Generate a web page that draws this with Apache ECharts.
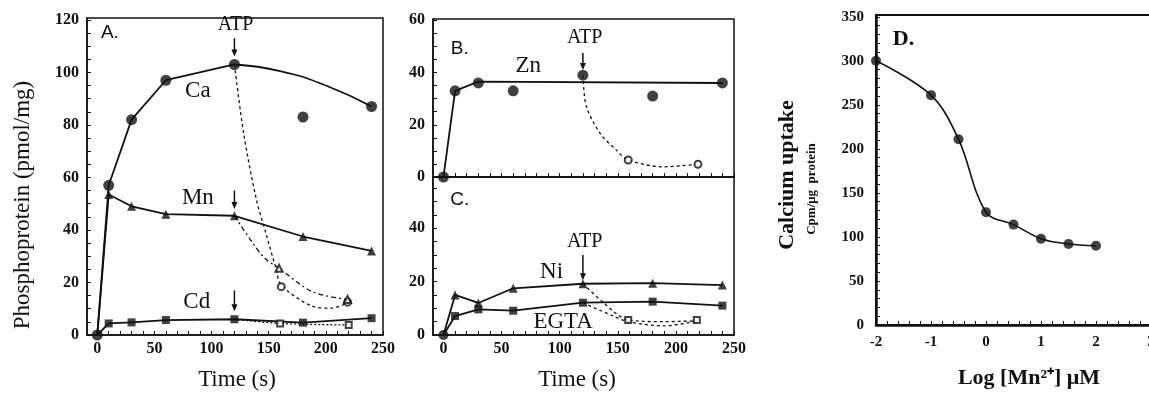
<!DOCTYPE html>
<html>
<head>
<meta charset="utf-8">
<script src="https://cdn.jsdelivr.net/npm/echarts@6/dist/echarts.min.js"></script>
<style>
html, body { margin: 0; padding: 0; background: #fff; }
#main { width: 1149px; height: 402px; }
</style>
</head>
<body>
<div id="main"></div>
<script>
// A. phosphoprotein vs time, Ca / Mn / Cd
var tA = [0, 10, 30, 60, 120, 180, 240];
var caA = [0, 57, 82, 97, 103, 83, 87];
var mnA = [0, 53.5, 49, 46, 45.4, 37.5, 32];
var cdA = [0, 4.4, 4.8, 5.7, 6, 4.7, 6.4];
// fitted Ca arc after the peak
var caArcT = [120, 160, 200, 240];
var caArcV = [103, 100.5, 95, 87];
// after ATP addition (open symbols)
var caAtpT = [120, 128, 139, 148, 156, 161, 188, 205, 218];
var caAtpV = [103, 77, 52, 38, 26, 19, 11, 10.2, 12];
var mnAtpT = [120, 136, 147, 159, 188, 219];
var mnAtpV = [45.4, 35, 29, 25.4, 16.5, 13.5];
var cdAtpT = [120, 160, 220];
var cdAtpV = [6, 4.4, 3.8];
var caOpenT = [161, 219];
var caOpenV = [18.4, 12.5];
var mnOpenT = [159, 219];
var mnOpenV = [25.4, 13.5];

// B. Zn
var tB = [0, 10, 30, 60, 120, 180, 240];
var znB = [0, 33, 36, 33, 39, 31, 36];
var znFitT = [0, 10, 30, 240];
var znFitV = [0, 33, 36.5, 36];
var znAtpT = [120, 123, 135, 149, 159, 189, 219];
var znAtpV = [39, 27, 16.6, 10.2, 6.5, 3.9, 4.9];
var znOpenT = [159, 219];
var znOpenV = [6.5, 4.9];

// C. Ni / EGTA
var niC = [0, 15, 12, 17.5, 19.2, 19.4, 18.7];
var egC = [0, 7.1, 9.6, 9.1, 12.1, 12.5, 11];
var niAtpT = [120, 138, 159, 190, 218];
var niAtpV = [19.2, 12, 5.6, 5, 5.3];
var egAtpT = [120, 144, 159, 190, 218];
var egAtpV = [12.1, 7.5, 5, 3.4, 5.3];
var cOpenT = [159, 218];
var cOpenV = [5.6, 5.6];

// D. calcium uptake vs log [Mn]
var dX = [-2, -1, -0.5, 0, 0.5, 1, 1.5, 2];
var dV = [300, 261, 211, 128, 114, 98, 92, 90];

// tick labels
var timeTicks = [0, 50, 100, 150, 200, 250];
var aTicks = [0, 20, 40, 60, 80, 100, 120];
var bTicks = [0, 20, 40, 60];
var cTicks = [0, 20, 40];
var dYTicks = [0, 50, 100, 150, 200, 250, 300, 350];
var dXTicks = [-2, -1, 0, 1, 2, 3];

var SERIF = '"Liberation Serif", "Times New Roman", serif';
var SANS = '"Liberation Sans", Arial, sans-serif';
var INK = '#111';

var chart = echarts.init(document.getElementById('main'));

function pts(xs, ys) {
	var r = [];
	for (var i = 0; i < xs.length; i++) r.push([xs[i], ys[i]]);
	return r;
}
function steps(a, b, s) {
	var r = [];
	for (var v = a; v <= b + 1e-9; v += s) r.push(Math.round(v * 1000) / 1000);
	return r;
}

function axis(grid, min, max, labels, ticks, showLabel, fs, margin, lw) {
	return {
		type: 'value', gridIndex: grid, min: min, max: max,
		axisLine: { show: true, onZero: false, lineStyle: { color: INK, width: lw || 1.5 } },
		axisTick: { inside: true, length: 4, customValues: ticks, lineStyle: { color: INK, width: 1 } },
		axisLabel: {
			show: showLabel, customValues: labels, margin: margin, color: INK,
			fontFamily: SERIF, fontWeight: 'bold', fontSize: fs
		},
		splitLine: { show: false }
	};
}

function solid(x, y, data, extra) {
	var s = {
		type: 'line', xAxisIndex: x, yAxisIndex: y, data: data,
		showSymbol: false, symbol: 'none',
		lineStyle: { color: INK, width: 1.8 }, z: 3
	};
	for (var k in extra) s[k] = extra[k];
	return s;
}
function dashed(x, y, data, dash) {
	return {
		type: 'line', xAxisIndex: x, yAxisIndex: y, data: data,
		symbol: 'none', smooth: 0.3,
		lineStyle: { color: INK, width: 1.3, type: dash }, z: 2
	};
}
function marks(x, y, data, sym, size) {
	var open = sym.indexOf('empty') === 0;
	return {
		type: 'scatter', xAxisIndex: x, yAxisIndex: y, data: data,
		symbol: sym, symbolSize: size,
		itemStyle: { color: INK, borderColor: INK, borderWidth: open ? 1.3 : 0 },
		z: 5
	};
}

var gridStyle = { show: true, borderColor: INK, borderWidth: 1.5, backgroundColor: 'transparent', outerBoundsMode: 'none', containLabel: false };

chart.setOption({
	animation: false,
	backgroundColor: '#fff',
	grid: [
		Object.assign({ left: 87, top: 18, width: 296, height: 317 }, gridStyle),
		Object.assign({ left: 433, top: 19, width: 301, height: 158 }, gridStyle),
		Object.assign({ left: 433, top: 177, width: 301, height: 158 }, gridStyle),
		Object.assign({ left: 876, top: 15, width: 275, height: 310 }, gridStyle, { borderWidth: 2 })
	],
	xAxis: [
		axis(0, -9, 250, timeTicks, steps(0, 250, 10), true, 16, 6),
		axis(1, -9, 250, timeTicks, steps(0, 250, 10), false, 16, 6),
		axis(2, -9, 250, timeTicks, steps(0, 250, 10), true, 16, 6),
		axis(3, -2, 3, dXTicks, steps(-2, 3, 0.2), true, 15, 10, 2.5)
	],
	yAxis: [
		axis(0, 0, 120.7, aTicks, steps(0, 120, 5), true, 16, 8),
		axis(1, 0, 60.5, bTicks, steps(0, 60, 5), true, 16, 8),
		axis(2, 0, 59.2, cTicks, steps(0, 55, 5), true, 16, 8),
		axis(3, 0, 352, dYTicks, steps(0, 350, 10), true, 15, 12, 2.5)
	],
	series: [
		// A
		solid(0, 0, pts(tA.slice(0, 5), caA.slice(0, 5))),
		solid(0, 0, pts(caArcT, caArcV), { smooth: 0.5 }),
		solid(0, 0, pts(tA, mnA)),
		solid(0, 0, pts(tA, cdA)),
		dashed(0, 0, pts(caAtpT, caAtpV), [3, 3]),
		dashed(0, 0, pts(mnAtpT, mnAtpV), [5, 3, 2, 3]),
		dashed(0, 0, pts(cdAtpT, cdAtpV), [2, 2]),
		marks(0, 0, pts(tA, caA), 'circle', 11),
		marks(0, 0, pts(tA.slice(1), mnA.slice(1)), 'triangle', 9),
		marks(0, 0, pts(tA.slice(1), cdA.slice(1)), 'rect', 8),
		marks(0, 0, pts(caOpenT, caOpenV), 'emptyCircle', 7),
		marks(0, 0, pts(mnOpenT, mnOpenV), 'emptyTriangle', 7),
		marks(0, 0, pts(cdAtpT.slice(1), cdAtpV.slice(1)), 'emptyRect', 6),
		// B
		solid(1, 1, pts(znFitT, znFitV)),
		dashed(1, 1, pts(znAtpT, znAtpV), [3, 3]),
		marks(1, 1, pts(tB, znB), 'circle', 11),
		marks(1, 1, pts(znOpenT, znOpenV), 'emptyCircle', 7),
		// C
		solid(2, 2, pts(tB, niC)),
		solid(2, 2, pts(tB, egC)),
		dashed(2, 2, pts(niAtpT, niAtpV), [3, 3]),
		dashed(2, 2, pts(egAtpT, egAtpV), [3, 3]),
		marks(2, 2, pts(tB.slice(1), niC.slice(1)), 'triangle', 9),
		marks(2, 2, pts(tB.slice(1), egC.slice(1)), 'rect', 8),
		marks(2, 2, [[0, 0]], 'circle', 10),
		marks(2, 2, pts(cOpenT, cOpenV), 'emptyRect', 6),
		// D
		solid(3, 3, pts(dX, dV), { smooth: 0.35, lineStyle: { color: INK, width: 1.6 } }),
		marks(3, 3, pts(dX, dV), 'circle', 10)
	]
});

// annotations anchored in data space
function px(g, x, y) { return chart.convertToPixel({ gridIndex: g }, [x, y]); }

var graphics = [];
function label(g, x, y, str, size, family, weight) {
	var p = px(g, x, y);
	graphics.push({
		type: 'text', x: p[0], y: p[1], z: 10,
		style: {
			text: str, fill: INK, font: (weight || 'normal') + ' ' + size + 'px ' + family,
			textAlign: 'center', textVerticalAlign: 'middle'
		}
	});
}
function arrow(g, x, yTop, yTip) {
	var a = px(g, x, yTop), b = px(g, x, yTip);
	graphics.push({ type: 'line', z: 10, shape: { x1: a[0], y1: a[1], x2: b[0], y2: b[1] - 5 }, style: { stroke: INK, lineWidth: 1.5 } });
	graphics.push({ type: 'polygon', z: 10, shape: { points: [[b[0] - 3, b[1] - 7], [b[0] + 3, b[1] - 7], [b[0], b[1]]] }, style: { fill: INK } });
}
function title(x, y, str, size, weight, rotate) {
	graphics.push({
		type: 'text', x: x, y: y, rotation: rotate ? Math.PI / 2 : 0, z: 10,
		style: {
			text: str, fill: INK, font: (weight || 'normal') + ' ' + size + 'px ' + SERIF,
			textAlign: 'center', textVerticalAlign: 'middle'
		}
	});
}

label(0, 11, 115, 'A.', 19, SANS);
label(0, 121, 118, 'ATP', 20, SERIF);
arrow(0, 120, 113, 106);
arrow(0, 120, 55, 48);
arrow(0, 120, 17, 9);
label(0, 88, 93, 'Ca', 23, SERIF);
label(0, 88, 52, 'Mn', 23, SERIF);
label(0, 87, 12.5, 'Cd', 23, SERIF);

label(1, 14, 49, 'B.', 19, SANS);
label(1, 73, 42.5, 'Zn', 23, SERIF);
label(1, 121.5, 53.5, 'ATP', 20, SERIF);
arrow(1, 120, 47.5, 41);

label(2, 14, 50.5, 'C.', 19, SANS);
label(2, 121.5, 35, 'ATP', 20, SERIF);
arrow(2, 120, 30, 20.5);
label(2, 93, 23.8, 'Ni', 23, SERIF);
label(2, 103, 5, 'EGTA', 23, SERIF);

label(3, -1.5, 324, 'D.', 22, SERIF, 'bold');

title(23, 205, 'Phosphoprotein (pmol/mg)', 23, 'normal', true);
title(237, 380, 'Time (s)', 23);
title(577, 380, 'Time (s)', 23);
title(787, 175, 'Calcium uptake', 22, 'bold', true);
title(812, 189, 'Cpm/\u03bcg  protein', 13, 'bold', true);
title(1029, 378, 'Log [Mn\u00b2\u207a] \u03bcM', 22, 'bold');

chart.setOption({ graphic: graphics });
</script>
</body>
</html>
